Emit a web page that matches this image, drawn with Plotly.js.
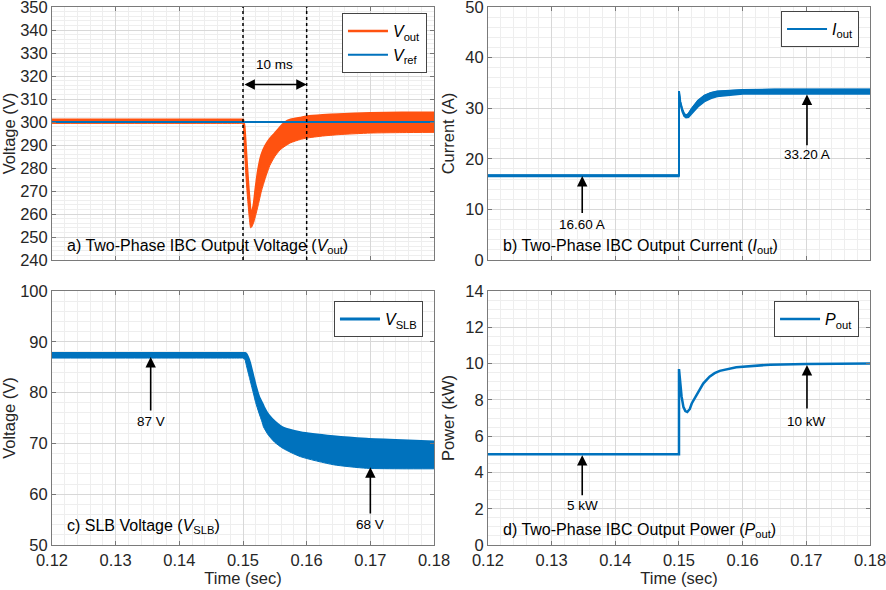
<!DOCTYPE html>
<html>
<head>
<meta charset="utf-8">
<script src="https://cdn.plot.ly/plotly-3.0.1.min.js"></script>
<style>
  html, body { margin: 0; padding: 0; background: #fff; }
  #chart { width: 886px; height: 590px; }
</style>
</head>
<body>
<div id="chart"></div>
<script>
// ---- data ----
// a) output voltage: ripple band (upper / lower envelope) and reference
var tA = [0.12, 0.135, 0.149, 0.1498, 0.15, 0.1502, 0.1504, 0.1506, 0.1508, 0.1510, 0.1512, 0.1514,
          0.1517, 0.1520, 0.1524, 0.1529, 0.1535, 0.1542, 0.1550, 0.1558, 0.1566, 0.1575, 0.1590,
          0.1600, 0.1625, 0.1650, 0.1700, 0.1750, 0.1800];
var vOutHi = [301, 301, 301, 301, 301, 298, 290, 281, 273, 266, 261, 260.5,
              264, 271, 279, 285.5, 289.5, 292.5, 295, 297.6, 299.8, 301, 301.8,
              302.3, 302.9, 303.3, 303.8, 304, 304];
var vOutLo = [299.4, 299.4, 299.4, 299.4, 299.4, 290, 279, 271, 264, 258, 254, 254.5,
              256.5, 259.5, 264, 270, 275.5, 281, 285, 287.8, 289.5, 291, 292.4,
              293, 293.9, 294.5, 295.2, 295.4, 295.5];
var tRef = [0.12, 0.18];
var vRef = [300, 300];

// b) output current band
var tB = [0.12, 0.15, 0.15, 0.1502, 0.1505, 0.1508, 0.1511, 0.1515, 0.152, 0.153, 0.154, 0.155,
          0.156, 0.158, 0.160, 0.165, 0.170, 0.180];
var iOutHi = [16.75, 16.75, 33.4, 31.3, 29.8, 28.9, 28.55, 28.9, 29.9, 31.5, 32.5, 33.0,
              33.3, 33.5, 33.6, 33.7, 33.7, 33.7];
var iOutLo = [16.5, 16.5, 33.0, 30.8, 29.3, 28.4, 28.1, 28.2, 28.9, 30.3, 31.3, 31.9,
              32.3, 32.6, 32.8, 32.8, 32.8, 32.8];

// c) SLB voltage band
var tC = [0.12, 0.135, 0.149, 0.1498, 0.150, 0.1503, 0.1505, 0.151, 0.1515, 0.1517, 0.152, 0.1525,
          0.153, 0.1532, 0.154, 0.155, 0.1563, 0.159, 0.1642, 0.1694, 0.175, 0.18];
var vSlbHi = [87.7, 87.7, 87.7, 87.7, 87.7, 87.7, 87.5, 86, 83.5, 82.5, 81, 79,
              77.8, 77.2, 75.5, 74.2, 73, 72.1, 71.3, 70.8, 70.5, 70.3];
var vSlbLo = [86.8, 86.8, 86.8, 86.8, 86.8, 86.5, 85.5, 83, 80.5, 79.5, 78, 76,
              74.2, 73.3, 71.6, 70.2, 69, 67.4, 65.8, 65.1, 65.0, 65.0];

// d) output power
var tD = [0.12, 0.15, 0.15, 0.1502, 0.1504, 0.1507, 0.151, 0.1513, 0.1517, 0.152, 0.153, 0.1538,
          0.1548, 0.1556, 0.1564, 0.159, 0.1643, 0.17, 0.18];
var pOut = [5.0, 5.0, 9.7, 9.0, 8.2, 7.6, 7.38, 7.33, 7.5, 7.8, 8.45, 8.9,
            9.28, 9.47, 9.6, 9.8, 9.94, 9.98, 10.0];

// callouts (arrow pointing up to the curve, label under the tail)
var noteLabels = ['16.60 A', '33.20 A', '87 V', '68 V', '5 kW', '10 kW'];
var notePanel  = ['2', '2', '3', '3', '4', '4'];
var noteT      = [0.1348, 0.1701, 0.1355, 0.1700, 0.1348, 0.1701];
var noteTip    = [16.6, 32.7, 87.0, 65.3, 4.95, 9.92];
var noteTail   = [9.0, 22.4, 76.2, 55.9, 2.66, 7.44];
var noteTextY  = [7.1, 20.9, 74.3, 54.1, 2.15, 6.8];

var markTimes = [0.15, 0.16];   // dotted lines in panel a

var orange = '#ff5210', blue = '#0072bd';
var font = 'Liberation Sans, Arial, Helvetica, sans-serif';
var smooth = {shape: 'spline', smoothing: 0.6};

// ---- traces ----
var data = [
  // a)
  {x: tA, y: vOutLo, xaxis: 'x', yaxis: 'y', mode: 'lines',
   line: Object.assign({color: orange, width: 1}, smooth), showlegend: false, hoverinfo: 'skip'},
  {x: tA, y: vOutHi, xaxis: 'x', yaxis: 'y', mode: 'lines',
   line: Object.assign({color: orange, width: 1}, smooth),
   fill: 'tonexty', fillcolor: orange, showlegend: false, hoverinfo: 'skip'},
  {x: tA, y: vOutHi, xaxis: 'x', yaxis: 'y', mode: 'lines',
   line: Object.assign({color: orange, width: 2.5}, smooth),
   name: '<i>V</i><sub>out</sub>', legend: 'legend'},
  {x: tRef, y: vRef, xaxis: 'x', yaxis: 'y', mode: 'lines', line: {color: blue, width: 2},
   name: '<i>V</i><sub>ref</sub>', legend: 'legend'},
  // b)
  {x: tB, y: iOutLo, xaxis: 'x2', yaxis: 'y2', mode: 'lines', line: {color: blue, width: 1.5},
   showlegend: false, hoverinfo: 'skip'},
  {x: tB, y: iOutHi, xaxis: 'x2', yaxis: 'y2', mode: 'lines', line: {color: blue, width: 1.5},
   fill: 'tonexty', fillcolor: blue, showlegend: false, hoverinfo: 'skip'},
  {x: tB, y: iOutHi, xaxis: 'x2', yaxis: 'y2', mode: 'lines', line: {color: blue, width: 2},
   name: '<i>I</i><sub>out</sub>', legend: 'legend2'},
  // c)
  {x: tC, y: vSlbLo, xaxis: 'x3', yaxis: 'y3', mode: 'lines',
   line: Object.assign({color: blue, width: 1}, smooth), showlegend: false, hoverinfo: 'skip'},
  {x: tC, y: vSlbHi, xaxis: 'x3', yaxis: 'y3', mode: 'lines',
   line: Object.assign({color: blue, width: 1}, smooth),
   fill: 'tonexty', fillcolor: blue, showlegend: false, hoverinfo: 'skip'},
  {x: tC, y: vSlbHi, xaxis: 'x3', yaxis: 'y3', mode: 'lines',
   line: Object.assign({color: blue, width: 3}, smooth),
   name: '<i>V</i><sub>SLB</sub>', legend: 'legend3'},
  // d)
  {x: tD, y: pOut, xaxis: 'x4', yaxis: 'y4', mode: 'lines', line: {color: blue, width: 2.5},
   name: '<i>P</i><sub>out</sub>', legend: 'legend4'}
];

// ---- axes ----
var tickFont = {size: 16.5, color: '#262626'};
function xAx(dom, anchor, labels) {
  return {
    domain: dom, anchor: anchor, range: [0.12, 0.18], dtick: 0.01, tick0: 0.12,
    showticklabels: labels, ticklabeloverflow: 'allow',
    ticks: 'inside', ticklen: 4, tickcolor: '#777',
    showline: true, linecolor: '#7a7a7a', linewidth: 1, mirror: 'ticks',
    showgrid: true, gridcolor: '#d8d8d8', zeroline: false,
    minor: {dtick: 0.002, showgrid: true, gridcolor: '#eeeeee', ticks: ''},
    tickfont: tickFont,
    title: labels ? {text: 'Time (sec)', font: tickFont, standoff: 0} : {text: ''}
  };
}
function yAx(dom, anchor, range, dt, mdt, title) {
  return {
    domain: dom, anchor: anchor, range: range, dtick: dt, tick0: range[0],
    ticklabeloverflow: 'allow',
    ticks: 'inside', ticklen: 4, tickcolor: '#777',
    showline: true, linecolor: '#7a7a7a', linewidth: 1, mirror: 'ticks',
    showgrid: true, gridcolor: '#d8d8d8', zeroline: false,
    minor: {dtick: mdt, showgrid: true, gridcolor: '#eeeeee', ticks: ''},
    tickfont: tickFont,
    title: {text: title, font: tickFont, standoff: 6}
  };
}

var colL = [0, 0.467], colR = [0.533, 1];
var rowT = [0.5297, 1], rowB = [0, 0.4721];

function legendAt(x, y) {
  return {x: x, y: y, xref: 'paper', yref: 'paper', xanchor: 'right', yanchor: 'top',
          bgcolor: '#ffffff', bordercolor: '#444', borderwidth: 1, traceorder: 'normal',
          font: {size: 16, color: '#000'}, itemwidth: 40, tracegroupgap: 0};
}

// ---- annotations ----
var ann = [];
var titles = [
  ['a) Two-Phase IBC Output Voltage (<i>V</i><sub>out</sub>)', 'x', 'y', 0.055],
  ['b) Two-Phase IBC Output Current (<i>I</i><sub>out</sub>)', 'x2', 'y2', 0.052],
  ['c) SLB Voltage (<i>V</i><sub>SLB</sub>)', 'x3', 'y3', 0.072],
  ['d) Two-Phase IBC Output Power (<i>P</i><sub>out</sub>)', 'x4', 'y4', 0.059]
];
titles.forEach(function (t) {
  ann.push({text: t[0], xref: t[1] + ' domain', yref: t[2] + ' domain', x: 0.034, y: t[3],
            xanchor: 'left', yanchor: 'middle', showarrow: false,
            font: {size: 16, color: '#000'}});
});
for (var i = 0; i < noteLabels.length; i++) {
  var xr = 'x' + notePanel[i], yr = 'y' + notePanel[i];
  ann.push({xref: xr, yref: yr, axref: xr, ayref: yr, x: noteT[i], y: noteTip[i],
            ax: noteT[i], ay: noteTail[i], text: '', showarrow: true,
            arrowhead: 2, arrowsize: 1.3, arrowwidth: 1.6, arrowcolor: '#000'});
  ann.push({xref: xr, yref: yr, x: noteT[i], y: noteTextY[i], text: noteLabels[i],
            showarrow: false, xanchor: 'center', yanchor: 'middle',
            font: {size: 13.5, color: '#000'}});
}
// 10 ms span
ann.push({xref: 'x', yref: 'y', axref: 'x', ayref: 'y', x: markTimes[1], y: 316.3,
          ax: markTimes[0], ay: 316.3, text: '', showarrow: true, arrowside: 'end+start',
          arrowhead: 2, arrowsize: 1.3, arrowwidth: 1.6, arrowcolor: '#000'});
ann.push({xref: 'x', yref: 'y', x: (markTimes[0] + markTimes[1]) / 2, y: 325, text: '10 ms',
          showarrow: false, font: {size: 13.5, color: '#000'}});

var shapes = markTimes.map(function (t) {
  return {type: 'line', xref: 'x', yref: 'y domain', x0: t, x1: t, y0: 0, y1: 1,
          line: {color: '#000', width: 1.5, dash: 'dot'}};
});

var layout = {
  width: 886, height: 590,
  margin: {l: 52, r: 16, t: 7, b: 45},
  paper_bgcolor: '#fff', plot_bgcolor: '#fff',
  font: {family: font, size: 15, color: '#262626'},
  xaxis: xAx(colL, 'y', false),
  xaxis2: xAx(colR, 'y2', false),
  xaxis3: xAx(colL, 'y3', true),
  xaxis4: xAx(colR, 'y4', true),
  yaxis: yAx(rowT, 'x', [240, 350], 10, 2, 'Voltage (V)'),
  yaxis2: yAx(rowT, 'x2', [0, 50], 10, 2, 'Current (A)'),
  yaxis3: yAx(rowB, 'x3', [50, 100], 10, 2, 'Voltage (V)'),
  yaxis4: yAx(rowB, 'x4', [0, 14], 2, 0.5, 'Power (kW)'),
  legend: legendAt(0.4584, 0.9888),
  legend2: legendAt(0.9866, 0.9926),
  legend3: legendAt(0.4535, 0.4535),
  legend4: legendAt(0.9866, 0.4535),
  annotations: ann,
  shapes: shapes
};

Plotly.newPlot('chart', data, layout, {staticPlot: true, displayModeBar: false});
</script>
</body>
</html>
